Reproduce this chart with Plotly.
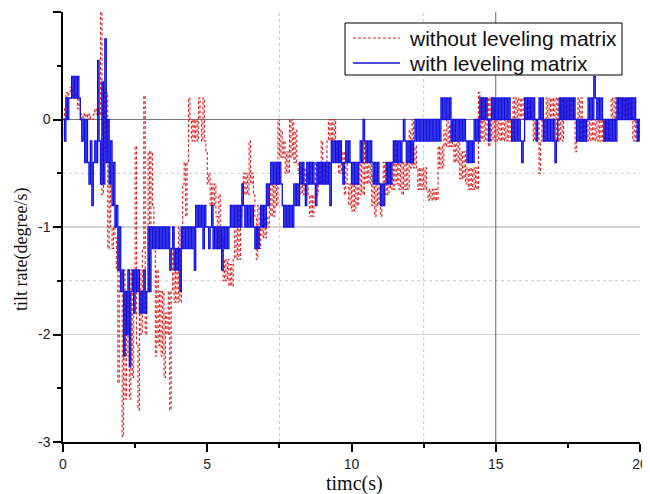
import numpy as np
import plotly.graph_objects as go

DT = 0.05  # sampling step of the recorded signals (s)

# tilt rate (degree/s) with leveling matrix (blue), one row = 1 s
with_leveling = [
    0, -0.2, 0.2, 0, 0.2, 0.2, 0.4, 0.2, 0.4, 0.2, 0.4, 0.2, 0, -0.2, 0, -0.4, 0, -0.4, -0.6, -0.2,
    -0.8, -0.4, -0.2, -0.4, 0.55, -0.2, -0.6, 0.35, -0.6, 0.75, -0.4, 0, -0.6, -0.2, -0.8, -0.4, -1.0, -0.8, -1.4, -1.0,
    -1.6, -1.4, -2.2, -1.6, -2.0, -1.4, -2.3, -1.6, -1.4, -1.8, -1.4, -1.6, -1.4, -1.8, -1.6, -1.8, -1.4, -1.8, -1.6, -1.0,
    -1.6, -1.0, -1.2, -1.0, -1.2, -1.0, -1.2, -1.0, -1.2, -1.0, -1.2, -1.0, -1.2, -1.0, -1.4, -1.2, -1.0, -1.4, -1.2, -1.4,
    -1.2, -1.6, -1.0, -1.2, -1.0, -1.2, -1.0, -1.2, -1.0, -1.2, -1.0, -1.4, -0.8, -1.0, -0.8, -1.0, -0.8, -1.2, -0.8, -1.0,
    -1.0, -1.2, -1.0, -0.8, -1.2, -1.0, -1.2, -1.0, -1.2, -1.0, -1.4, -1.0, -1.2, -1.0, -1.2, -1.0, -0.8, -1.0, -0.8, -1.0,
    -0.8, -1.0, -0.8, -1.0, -0.6, -0.8, -1.0, -0.8, -1.0, -0.8, -1.0, -0.8, -1.0, -1.2, -1.0, -1.2, -1.0, -0.8, -1.0, -0.8,
    -1.0, -0.6, -0.8, -0.6, -0.4, -0.6, -0.4, -0.6, -0.4, -0.6, -0.4, -0.6, -0.8, -1.0, -0.8, -1.0, -0.8, -1.0, -0.8, -1.0,
    -0.6, -0.8, -0.6, -0.8, -0.4, -0.6, -0.4, -0.6, -0.8, -0.4, -0.6, -0.4, -0.6, -0.4, -0.6, -0.8, -0.4, -0.6, -0.4, -0.6,
    -0.4, -0.6, -0.4, -0.6, -0.4, -0.8, -0.2, -0.4, -0.2, -0.4, -0.2, -0.4, -0.2, -0.4, -0.6, -0.4, -0.2, -0.4, -0.2, -0.4,
    -0.6, -0.4, -0.6, -0.4, -0.6, -0.4, -0.2, -0.4, 0, -0.2, -0.4, -0.2, -0.4, -0.2, -0.4, -0.6, -0.4, -0.6, -0.4, -0.6,
    -0.8, -0.6, -0.8, -0.6, -0.4, -0.6, -0.4, -0.6, -0.4, -0.2, -0.4, -0.2, -0.4, -0.2, -0.4, -0.2, 0, -0.2, -0.4, -0.2,
    -0.4, -0.2, -0.4, -0.2, 0, -0.2, 0, -0.2, 0, -0.2, 0, -0.2, 0, -0.2, 0, -0.2, 0, -0.2, 0, -0.2,
    0, -0.2, 0.2, 0, 0.2, 0, 0.2, 0, 0.2, -0.2, 0, -0.2, 0, -0.2, 0, -0.2, 0, -0.2, 0, -0.2,
    -0.4, -0.2, -0.4, -0.2, -0.4, 0, -0.2, 0, -0.2, 0.2, 0, 0.2, 0, 0.2, 0, -0.2, 0, 0.2, 0, 0.2,
    0, 0.2, 0, 0.2, 0, 0.2, 0, 0.2, 0, 0.2, 0, -0.2, 0, -0.2, 0, -0.2, 0, -0.2, -0.4, -0.2,
    0.2, 0, 0.2, 0, 0.2, 0, 0.2, 0, -0.2, 0, 0.2, 0, 0.2, -0.2, 0, -0.2, 0, -0.2, 0, -0.2,
    0, -0.4, -0.2, 0, 0.2, 0, 0.2, 0, 0.2, 0, 0.2, 0, 0.2, 0, 0.2, 0, -0.2, 0, -0.2, 0,
    -0.2, 0, -0.2, 0, 0.2, 0, 0.2, 0, 0.4, 0.2, 0, 0.2, 0, 0.2, 0, -0.2, 0, -0.2, 0, -0.2,
    0, -0.2, 0, -0.2, 0.2, 0, 0.2, 0, 0.2, 0, 0.2, 0, 0.2, 0, 0.2, 0, 0.2, 0, -0.2, 0,
    -0.2,
]

# tilt rate (degree/s) without leveling matrix (red dashed), one row = 1 s
without_leveling = [
    0, 0.1, 0.25, 0.2, 0.25, 0.3, 0.2, 0.3, 0.2, 0.25, 0.1, 0.2, 0.05, 0, 0.05, 0, 0.05, 0, 0.05, 0,
    0, 0.05, 0.1, 0.05, 0.1, 0.05, 1.0, -0.7, 0.25, -0.3, 0.25, -1.2, -0.4, -1.0, -1.2, -1.0, -1.1, -1.4, -2.45, -1.4,
    -1.6, -2.95, -1.4, -2.6, -1.6, -2.2, -2.6, -1.4, -2.4, -1.6, -0.25, -2.1, -2.7, -1.4, -2.0, -1.2, 0.22, -2.0, -1.6, -0.3,
    -1.0, -0.3, -0.8, -1.0, -2.2, -1.4, -2.1, -1.6, -2.2, -1.6, -2.4, -1.8, -2.0, -1.6, -2.7, -1.6, -1.0, -1.7, -1.2, -1.7,
    -1.0, -1.7, -1.2, -0.6, -0.4, -0.9, -0.4, 0.2, 0, -0.2, 0, -0.2, 0, -0.2, 0.2, 0, -0.2, 0.2, -0.2, -0.3,
    -0.6, -0.5, -0.8, -0.6, -0.8, -0.6, -0.9, -1.2, -0.7, -1.2, -1.1, -1.5, -1.3, -1.5, -1.3, -1.55, -1.35, -1.55, -1.3, -1.0,
    -1.3, -0.8, -1.3, -0.9, -0.8, -0.5, -0.7, -0.5, -0.7, -0.2, -0.6, -0.5, -0.7, -0.9, -1.3, -0.8, -1.2, -0.8, -1.1, -0.9,
    -1.1, -0.9, -1.0, -0.6, -0.9, -0.6, -0.9, -0.6, -0.8, 0, -0.35, -0.1, -0.35, -0.2, -0.5, -0.3, -0.5, 0, -0.35, 0,
    -0.4, -0.1, -0.4, -0.5, -0.7, -0.45, -0.7, -0.45, -0.7, -0.5, -0.7, -0.9, -0.7, -0.9, -0.7, -0.4, -0.7, -0.4, -0.6, -0.2,
    -0.6, -0.4, -0.6, -0.2, 0, -0.2, 0, -0.2, 0, -0.4, -0.2, -0.5, -0.2, -0.5, -0.3, -0.7, -0.3, -0.6, -0.8, -0.6,
    -0.85, -0.6, -0.85, -0.6, -0.8, -0.4, -0.7, -0.4, -0.7, -0.2, -0.6, -0.4, -0.6, -0.4, -0.8, -0.5, -0.9, -0.5, -0.8, -0.6,
    -0.9, -0.6, -0.4, -0.7, -0.4, -0.7, -0.4, -0.65, -0.4, -0.65, -0.2, -0.6, -0.4, -0.65, -0.4, -0.7, -0.4, -0.65, -0.4, -0.65,
    -0.1, -0.45, 0, -0.45, -0.25, -0.45, -0.65, -0.45, -0.65, -0.45, -0.65, -0.45, -0.65, -0.75, -0.65, -0.75, -0.65, -0.75, -0.65, -0.75,
    -0.25, -0.45, -0.25, -0.45, -0.1, -0.25, 0, -0.25, -0.05, -0.25, -0.05, -0.4, -0.2, -0.4, -0.2, -0.55, -0.3, -0.55, -0.3, -0.6,
    -0.45, -0.65, -0.45, -0.65, -0.45, -0.65, -0.45, -0.65, 0.25, -0.2, 0.2, -0.2, 0.2, -0.2, 0.2, -0.25, 0.2, -0.2, 0.2, -0.2,
    0, -0.2, 0, -0.2, 0, -0.2, 0, -0.2, 0, -0.2, 0, -0.2, 0.2, 0, 0.2, 0, 0.2, 0, 0.2, 0,
    0.2, 0, 0.2, 0, 0.2, 0, -0.2, 0, -0.2, 0, -0.5, -0.2, 0, -0.2, 0, 0.2, 0, 0.2, 0, 0.2,
    0, 0.2, -0.2, 0.2, -0.2, 0.2, -0.2, 0.2, 0, 0.2, 0, 0.2, 0, 0.2, 0, -0.3, 0, 0.2, -0.2, 0.2,
    -0.2, 0, -0.2, 0, -0.2, 0, -0.2, 0, -0.2, 0, -0.2, 0, -0.2, 0, -0.2, 0, -0.2, 0, -0.2, 0,
    0.2, 0, 0.2, 0, 0.2, 0, 0.2, 0, 0.2, 0, 0.2, 0, 0.2, 0, 0.2, -0.2, 0, -0.2, 0, -0.2,
    -0.2,
]

series_names = ["without leveling matrix", "with leveling matrix"]
series_colors = ["#e02424", "#1010e0"]
x_ticks = [0, 5, 10, 15, 20]
y_ticks = [1, 0, -1, -2, -3]

t_without = np.arange(len(without_leveling)) * DT
t_with = np.arange(len(with_leveling)) * DT

red_line = dict(color=series_colors[0], width=1.1, dash="3px,2px")
blue_line = dict(color=series_colors[1], width=1.3)

fig = go.Figure()
fig.add_trace(go.Scatter(x=t_without, y=without_leveling, mode="lines", line_shape="hv",
                         name=series_names[0], line=red_line, showlegend=False))
fig.add_trace(go.Scatter(x=t_with, y=with_leveling, mode="lines", line_shape="hv",
                         name=series_names[1], line=blue_line, showlegend=False))

# grid lines (uneven styles, as in the reference)
grid = [
    ("h", 0, "#7a7a7a", "solid"), ("h", -1, "#a8a8a8", "solid"), ("h", -2, "#d4d4d4", "solid"),
    ("h", -0.5, "#c8c8c8", "dot"), ("h", -1.5, "#c8c8c8", "dot"),
    ("v", 7.5, "#c8c8c8", "dot"), ("v", 12.5, "#c8c8c8", "dot"), ("v", 15, "#6a6a6a", "solid"),
]
for kind, v, col, dash in grid:
    if kind == "h":
        fig.add_shape(type="line", xref="paper", x0=0, x1=1, yref="y", y0=v, y1=v,
                      line=dict(color=col, width=1, dash=dash), layer="below")
    else:
        fig.add_shape(type="line", yref="paper", y0=0, y1=1, xref="x", x0=v, x1=v,
                      line=dict(color=col, width=1, dash=dash), layer="below")

# page body has an 8px margin, so the figure is offset inside the 650x494 window
OFF = 8
W, H = 650 - OFF, 494 - OFF
ML, MR, MT, MB = 63 - OFF, 10, 12 - OFF, 52
PW, PH = W - ML - MR, H - MT - MB

def px_x(p):  # window pixel -> paper x
    return (p - OFF - ML) / PW

def px_y(p):  # window pixel -> paper y
    return (H - MB - (p - OFF)) / PH

serif = "Liberation Serif, Times New Roman, serif"
fig.add_annotation(text="tilt rate(degree/s)", textangle=-90, showarrow=False,
                   xref="paper", yref="paper", x=px_x(21), y=px_y(250),
                   xanchor="center", yanchor="middle",
                   font=dict(family=serif, size=18, color="#111111"))
fig.add_annotation(text="timc(s)", showarrow=False,
                   xref="paper", yref="paper", x=px_x(354), y=px_y(483),
                   xanchor="center", yanchor="middle",
                   font=dict(family=serif, size=20, color="#111111"))

# legend box (drawn by hand to match the reference proportions)
fig.add_shape(type="rect", xref="paper", yref="paper",
              x0=px_x(345), x1=px_x(622), y0=px_y(75), y1=px_y(23),
              line=dict(color="black", width=1), fillcolor="white", layer="above")
for i, (name, ln) in enumerate(zip(series_names, [red_line, blue_line])):
    yy = px_y(38 + 25 * i)
    fig.add_shape(type="line", xref="paper", yref="paper",
                  x0=px_x(353), x1=px_x(400), y0=yy, y1=yy, line=ln, layer="above")
    fig.add_annotation(text=name, showarrow=False, xref="paper", yref="paper",
                       x=px_x(407), y=yy, xanchor="left", yanchor="middle",
                       font=dict(family="Liberation Sans, Arial", size=21, color="#111111"))

tickfont = dict(family="Liberation Sans, Arial", size=14, color="#222222")
fig.update_layout(
    width=W, height=H,
    margin=dict(l=ML, r=MR, t=MT, b=MB),
    paper_bgcolor="white", plot_bgcolor="white",
    showlegend=False,
    xaxis=dict(
        range=[0, 20], tickvals=x_ticks, ticktext=[str(v) for v in x_ticks],
        ticks="outside", ticklen=8, tickwidth=1.5, tickcolor="black",
        minor=dict(tickvals=[2.5, 7.5, 12.5, 17.5], ticks="outside", ticklen=4, tickwidth=1.5, tickcolor="black", showgrid=False),
        showline=True, linecolor="black", linewidth=1.5, showgrid=False, zeroline=False,
        tickfont=tickfont, automargin=False,
    ),
    yaxis=dict(
        range=[-3, 1], tickvals=y_ticks, ticktext=[str(v) for v in y_ticks],
        ticks="outside", ticklen=8, tickwidth=1.5, tickcolor="black",
        minor=dict(tickvals=[0.5, -0.5, -1.5, -2.5], ticks="outside", ticklen=4, tickwidth=1.5, tickcolor="black", showgrid=False),
        showline=True, linecolor="black", linewidth=1.5, showgrid=False, zeroline=False,
        tickfont=tickfont, automargin=False,
    ),
    xaxis2=dict(
        overlaying="x", side="top", range=[0, 20], tickvals=[2, 4, 6, 8, 10, 12, 14, 16, 18],
        ticks="inside", ticklen=7, tickwidth=1.5, tickcolor="black", showticklabels=False,
        showline=True, linecolor="black", linewidth=1.5, showgrid=False, zeroline=False, automargin=False,
    ),
    yaxis2=dict(
        overlaying="y", side="right", range=[-3, 1], tickvals=[0.6, 0.2, -0.2, -0.6, -1.0, -1.4, -1.8, -2.2, -2.6],
        ticks="inside", ticklen=7, tickwidth=1.5, tickcolor="black", showticklabels=False,
        showline=True, linecolor="black", linewidth=1.5, showgrid=False, zeroline=False, automargin=False,
    ),
)

fig.write_html("out.html")
